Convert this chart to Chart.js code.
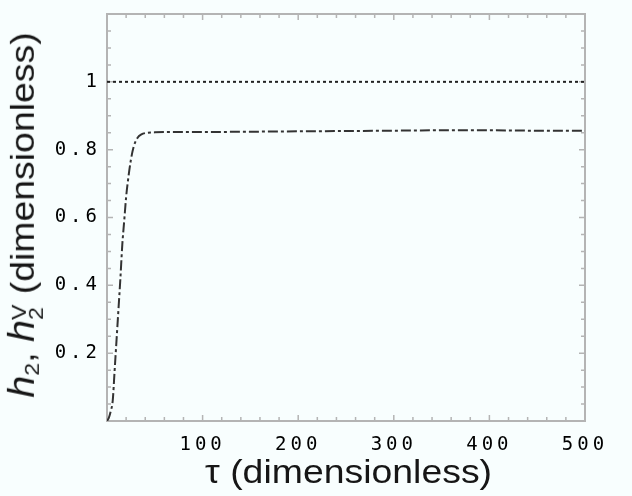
<!DOCTYPE html>
<html>
<head>
<meta charset="utf-8">
<script src="https://cdn.jsdelivr.net/npm/chart.js@4.4.1/dist/chart.umd.min.js"></script>
<style>
  body { margin: 0; background: #f8fefe; }
  #wrap { position: relative; width: 632px; height: 496px; }
  .titulo { position: absolute; font-family: 'Liberation Sans', Arial, sans-serif; font-size: 34px; color: #161616; white-space: nowrap; line-height: 40px; }
  #tituloX { left: 205px; top: 451px; transform: scaleX(1.1); transform-origin: left top; }
  #tituloY { left: 27px; top: 215px; transform: translate(-50%, -50%) rotate(-90deg) scaleX(1.1); }
  .h { font-style: italic; font-size: 36px; }
  .sub { font-size: 21px; vertical-align: -0.25em; }
  .pila { display: inline-block; font-size: 21px; line-height: 17px; vertical-align: -0.45em; }
</style>
</head>
<body>
<div id="wrap">
  <canvas id="grafico"></canvas>
  <div class="titulo" id="tituloX">τ (dimensionless)</div>
  <div class="titulo" id="tituloY"><span class="h">h</span><span class="sub">2</span>, <span class="h">h</span><span class="pila">V<br>2</span> (dimensionless)</div>
</div>
<script>
// tiempo adimensional y respuesta h2
const tau = [0, 2, 4, 6, 8, 10, 12, 14, 16, 18, 20, 22, 25, 28, 32, 36, 40, 50, 75, 100, 150, 200, 250, 300, 350, 400, 450, 500];
const h2 = [0, 0.01, 0.03, 0.06, 0.15, 0.24, 0.33, 0.42, 0.52, 0.59, 0.66, 0.71, 0.77, 0.81, 0.835, 0.845, 0.849, 0.851, 0.852, 0.852, 0.853, 0.854, 0.855, 0.856, 0.857, 0.857, 0.856, 0.856];
// línea de referencia en 1
const tauRef = [0, 500];
const valorRef = [1, 1];
// etiquetas de los ejes
const ticksX = [100, 200, 300, 400, 500];
const ticksY = [0.2, 0.4, 0.6, 0.8, 1];

// marco con marcas hacia adentro en los cuatro lados
const marco = {
  id: 'marco',
  beforeDraw(chart) {
    chart.ctx.letterSpacing = '4px'; // números separados como en el original
  },
  beforeDatasetsDraw(chart) {
    const { ctx, chartArea: a, scales: { x, y } } = chart;
    ctx.letterSpacing = '0px';
    ctx.save();
    ctx.strokeStyle = '#b4b4b4';
    ctx.lineWidth = 2;
    ctx.strokeRect(a.left, a.top, a.right - a.left, a.bottom - a.top);
    ctx.lineWidth = 1.5;
    ctx.beginPath();
    x.ticks.forEach(t => {
      const px = x.getPixelForValue(t.value);
      const l = ticksX.includes(t.value) ? 6 : 4;
      ctx.moveTo(px, a.bottom); ctx.lineTo(px, a.bottom - l);
      ctx.moveTo(px, a.top); ctx.lineTo(px, a.top + l);
    });
    y.ticks.forEach(t => {
      const py = y.getPixelForValue(t.value);
      const l = ticksY.includes(Math.round(t.value * 100) / 100) ? 6 : 4;
      ctx.moveTo(a.left, py); ctx.lineTo(a.left + l, py);
      ctx.moveTo(a.right, py); ctx.lineTo(a.right - l, py);
    });
    ctx.stroke();
    ctx.restore();
  }
};

const ctx = document.getElementById('grafico').getContext('2d');
const fuenteTicks = { family: "'DejaVu Sans Mono', monospace", size: 19 };

new Chart(ctx, {
  type: 'line',
  data: {
    datasets: [
      {
        data: tauRef.map((t, i) => ({ x: t, y: valorRef[i] })),
        borderColor: '#222',
        borderWidth: 2,
        borderDash: [3, 3],
        pointRadius: 0
      },
      {
        data: tau.map((t, i) => ({ x: t, y: h2[i] })),
        borderColor: '#333',
        borderWidth: 2,
        borderDash: [10, 3, 3, 3],
        pointRadius: 0,
        cubicInterpolationMode: 'monotone'
      }
    ]
  },
  options: {
    responsive: true,
    maintainAspectRatio: false,
    animation: false,
    layout: { padding: { top: 14, right: 47, left: 0, bottom: 0 } },
    plugins: { legend: { display: false }, tooltip: { enabled: false } },
    scales: {
      x: {
        type: 'linear',
        min: 0,
        max: 500,
        grid: { display: false },
        border: { display: false },
        ticks: {
          stepSize: 20,
          autoSkip: false,
          maxRotation: 0,
          padding: 5,
          color: '#000',
          font: fuenteTicks,
          callback: v => ticksX.includes(v) ? String(v) : ''
        },
        afterFit: s => { s.height = 75; }
      },
      y: {
        min: 0,
        max: 1.2,
        grid: { display: false },
        border: { display: false },
        ticks: {
          stepSize: 0.05,
          autoSkip: false,
          padding: -2,
          color: '#000',
          font: fuenteTicks,
          callback: v => {
            const r = Math.round(v * 100) / 100;
            return ticksY.includes(r) ? String(r) : '';
          }
        },
        afterFit: s => { s.width = 107; }
      }
    }
  },
  plugins: [marco]
});
</script>
</body>
</html>
